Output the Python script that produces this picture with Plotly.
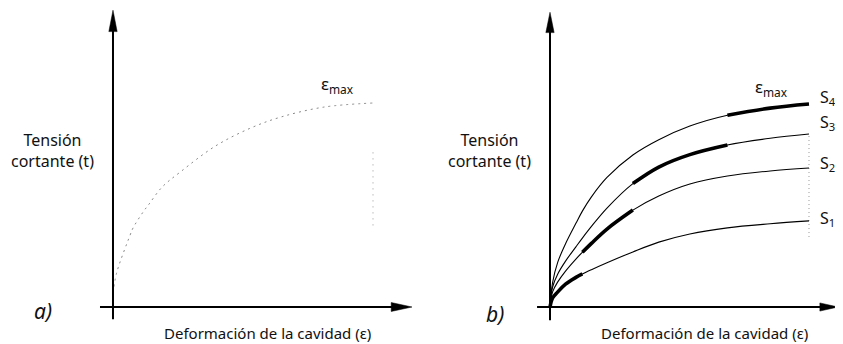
import plotly.graph_objects as go

# ---------------- data ----------------
# panel a: single curve (dotted)
x_a = [0.04, 0.15, 0.66, 0.77, 1.16, 1.39, 1.89, 2.59, 3.94, 5.29, 6.45, 8.11, 10]
y_a = [1.0, 1.72, 3.53, 3.87, 4.66, 5.05, 5.88, 6.62, 7.89, 8.77, 9.31, 9.8, 10.0]
emax_a = [4.0, 7.8]  # dotted vertical at end of curve

# panel b: four curves S1..S4
x_b = [0, 0.1, 0.3, 0.6, 1.0, 1.25, 1.6, 2.2, 3.2, 4.2, 5.4, 6.85, 8.5, 10]
s4 = [0, 1.2, 2.2, 3.1, 4.1, 4.7, 5.4, 6.35, 7.45, 8.2, 8.87, 9.4, 9.75, 9.95]
s3 = [0, 0.98, 1.62, 2.25, 2.95, 3.38, 3.95, 4.85, 6.05, 6.86, 7.47, 7.94, 8.27, 8.48]
s2 = [0, 0.74, 1.23, 1.76, 2.35, 2.68, 3.12, 3.82, 4.75, 5.44, 6.03, 6.42, 6.67, 6.81]
s1 = [0, 0.44, 0.74, 1.12, 1.45, 1.62, 1.83, 2.17, 2.7, 3.18, 3.58, 3.88, 4.08, 4.22]
series_names = ["S<sub>1</sub>", "S<sub>2</sub>", "S<sub>3</sub>", "S<sub>4</sub>"]
series = [s1, s2, s3, s4]
# stretches drawn thick (x ranges)
thick_ranges = [(0.0, 1.25), (1.25, 3.2), (3.2, 6.85), (6.85, 10)]
emax_b = [3.43, 8.48]
X_END = 10

FONT = "Noto Sans"
fig = go.Figure()

# ---- panel a ----
fig.add_trace(go.Scatter(x=x_a, y=y_a, mode="lines", line=dict(color="#8a8a8a", width=1, dash="2px,4px", shape="spline"),
                         xaxis="x", yaxis="y", hoverinfo="skip"))
fig.add_trace(go.Scatter(x=[X_END, X_END], y=emax_a, mode="lines", line=dict(color="#9a9a9a", width=1, dash="1px,5px"),
                         xaxis="x", yaxis="y", hoverinfo="skip"))

# ---- panel b ----
fig.add_trace(go.Scatter(x=[X_END, X_END], y=emax_b, mode="lines", line=dict(color="#9a9a9a", width=1, dash="1px,3px"),
                         xaxis="x2", yaxis="y2", hoverinfo="skip"))
for ys in series:
    fig.add_trace(go.Scatter(x=x_b, y=ys, mode="lines", line=dict(color="black", width=1.1, shape="spline"),
                             xaxis="x2", yaxis="y2", hoverinfo="skip"))
for ys, (lo, hi) in zip(series, thick_ranges):
    xs = [x for x in x_b if lo <= x <= hi]
    yy = [y for x, y in zip(x_b, ys) if lo <= x <= hi]
    fig.add_trace(go.Scatter(x=xs, y=yy, mode="lines", line=dict(color="black", width=3.6, shape="spline"),
                             xaxis="x2", yaxis="y2", hoverinfo="skip"))

# ---- axes with arrows ----
def axis_arrows(xr, yr, x_left, x_tip, y_bottom, y_tip, hx, hy, wx, wy):
    shapes = []
    shapes.append(dict(type="line", xref=xr, yref=yr, x0=0, x1=0, y0=y_bottom, y1=y_tip - hy * 0.5,
                       line=dict(color="black", width=2)))
    shapes.append(dict(type="line", xref=xr, yref=yr, x0=x_left, x1=x_tip - hx * 0.5, y0=0, y1=0,
                       line=dict(color="black", width=1.8)))
    shapes.append(dict(type="path", xref=xr, yref=yr,
                       path=f"M {-wx},{y_tip - hy} L 0,{y_tip} L {wx},{y_tip - hy} Z",
                       fillcolor="black", line=dict(color="black", width=0.5)))
    shapes.append(dict(type="path", xref=xr, yref=yr,
                       path=f"M {x_tip - hx},{-wy} L {x_tip},0 L {x_tip - hx},{wy} Z",
                       fillcolor="black", line=dict(color="black", width=0.5)))
    return shapes

shapes = []
shapes += axis_arrows("x", "y", -0.5, 11.5, -0.6, 14.55, 0.8, 1.05, 0.16, 0.22)
shapes += axis_arrows("x2", "y2", -0.5, 11.12, -0.65, 14.45, 0.7, 1.0, 0.16, 0.2)

ann = []
def txt(text, x, y, xr, yr, size=15, xanchor="center", italic=False):
    t = f"<i>{text}</i>" if italic else text
    ann.append(dict(text=t, x=x, y=y, xref=xr, yref=yr, showarrow=False, xanchor=xanchor, yanchor="middle",
                    font=dict(family=FONT, size=size, color="#111")))

txt("Tensión<br>cortante (t)", -2.31, 7.65, "x", "y", 16)
txt("ε<sub>max</sub>", 8.62, 10.93, "x", "y", 17)
txt("a)", -2.69, -0.2, "x", "y", 21, italic=True)
txt("Deformación de la cavidad (ε)", 5.96, -1.27, "x", "y", 15)

txt("Tensión<br>cortante (t)", -2.32, 7.65, "x2", "y2", 16)
txt("ε<sub>max</sub>", 8.57, 10.78, "x2", "y2", 17)
txt("b)", -2.12, -0.34, "x2", "y2", 21, italic=True)
txt("Deformación de la cavidad (ε)", 5.98, -1.27, "x2", "y2", 15)
label_y = [4.36, 7.01, 9.02, 10.29]
for name, ly in zip(series_names, label_y):
    txt(name, 10.33, ly, "x2", "y2", 16, xanchor="left")

# the page body has an 8px margin, so the figure is 8px smaller than the window
fig.update_layout(
    width=835, height=336, margin=dict(l=0, r=0, t=0, b=0),
    paper_bgcolor="white", plot_bgcolor="white", showlegend=False,
    xaxis=dict(domain=[0, 0.5], range=[-4.038, 12.019], visible=False),
    yaxis=dict(domain=[0, 1], range=[-1.814, 14.657], visible=False),
    xaxis2=dict(domain=[0.5, 1], range=[-4.807, 11.313], visible=False),
    yaxis2=dict(domain=[0, 1], range=[-1.814, 14.657], visible=False, anchor="x2"),
    shapes=shapes, annotations=ann,
)
fig.write_html("out.html")
